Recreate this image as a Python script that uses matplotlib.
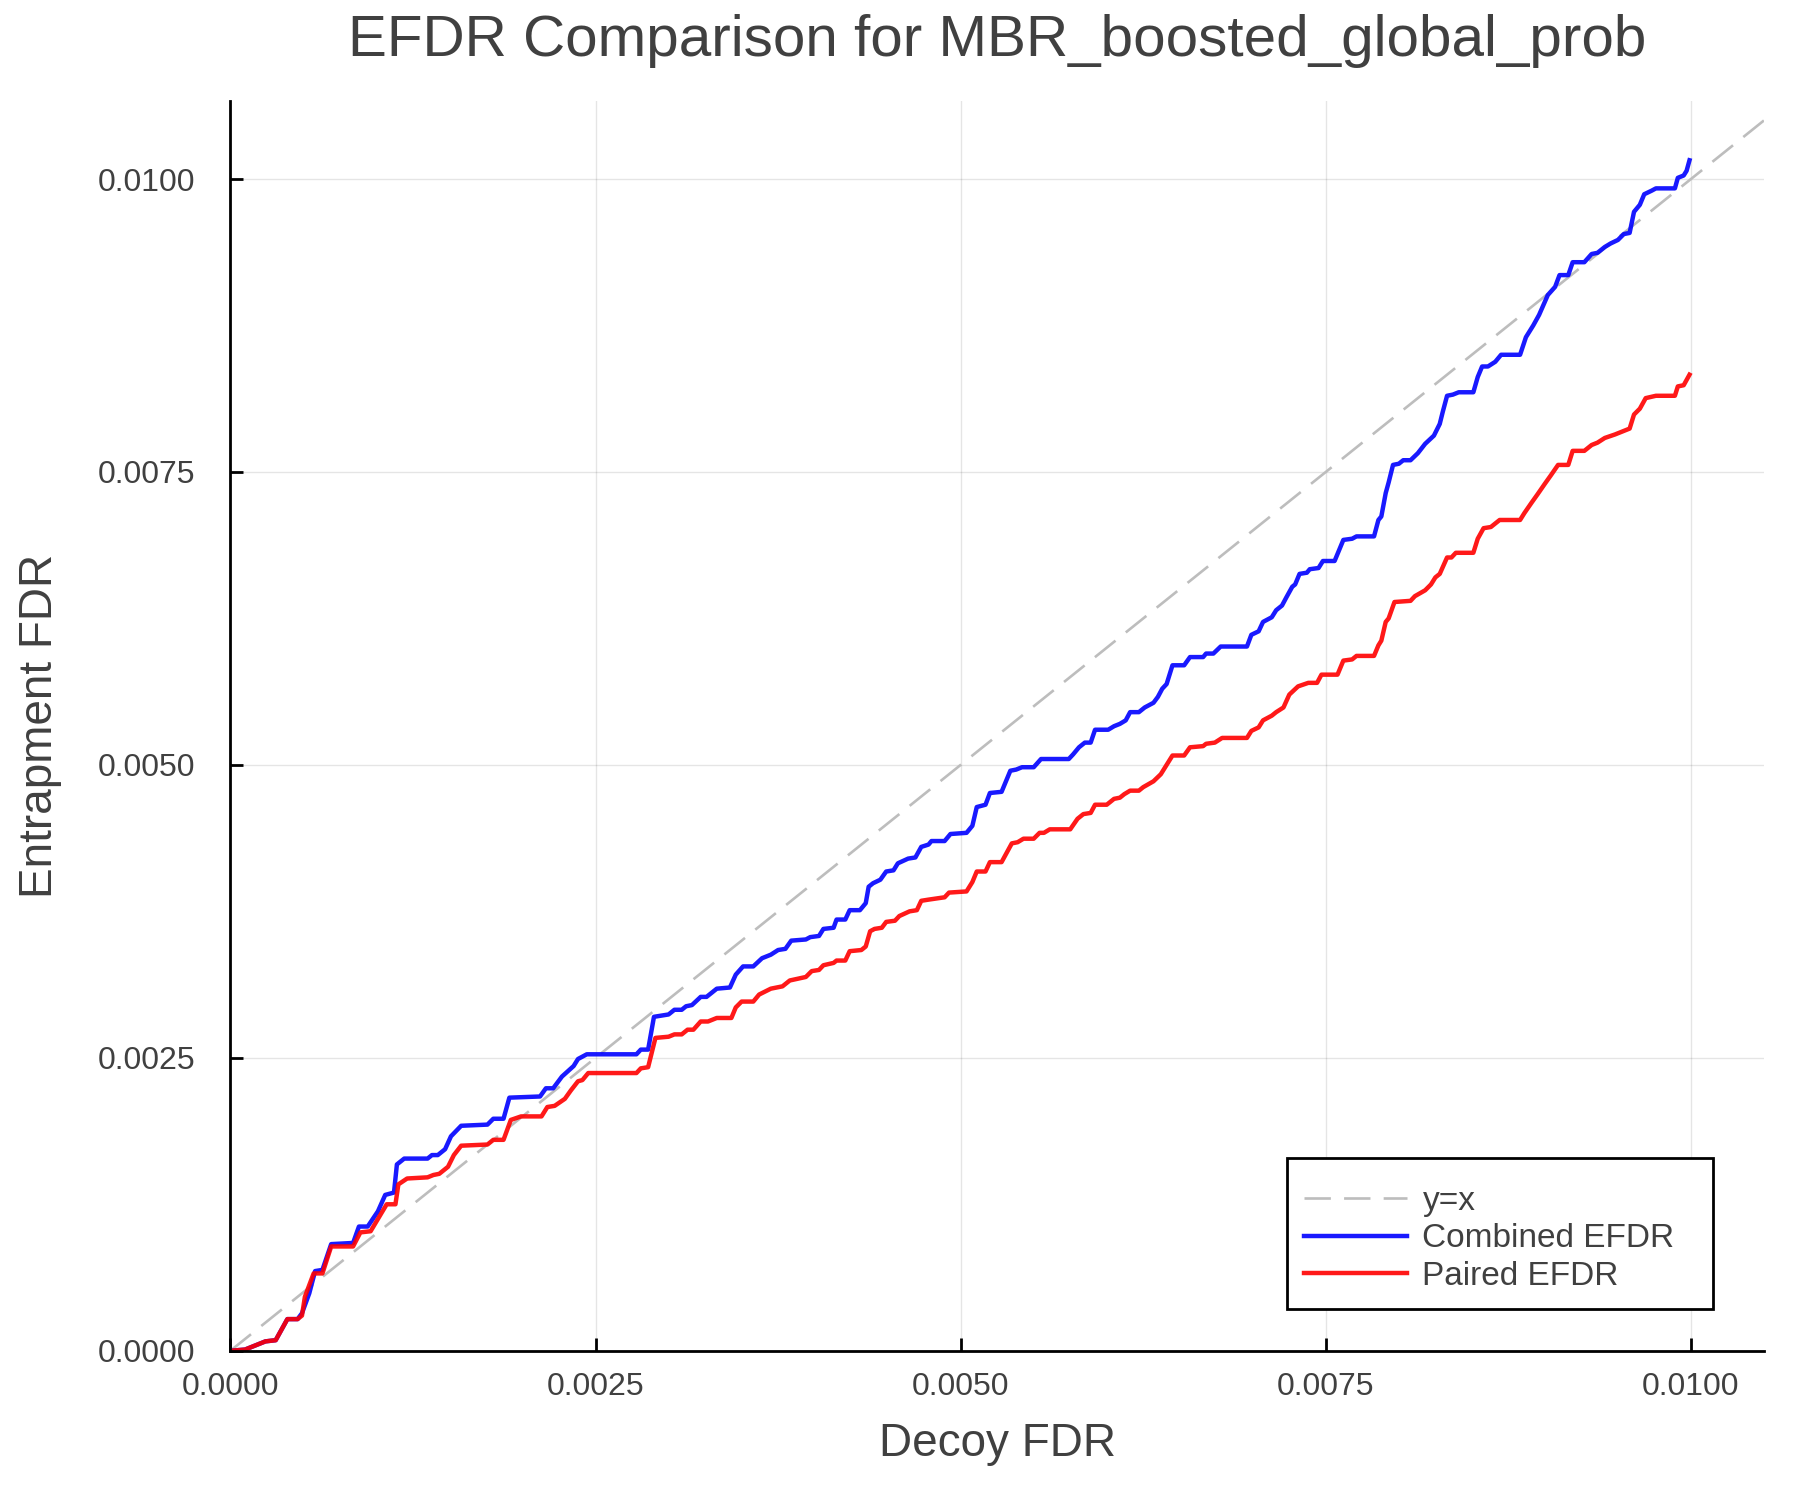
import matplotlib
matplotlib.use("Agg")
import matplotlib.pyplot as plt
from matplotlib.patches import Rectangle
import numpy as np

plt.rcParams['font.family'] = ['Liberation Sans', 'DejaVu Sans']

# decoy FDR (x) vs entrapment FDR (y)
combined_x = [0, 0.0001, 0.00024, 0.00031, 0.00039, 0.00046, 0.00049, 0.00054, 0.00058, 0.00063,
              0.00069, 0.00084, 0.00088, 0.00094, 0.00101, 0.00106, 0.00112, 0.00114, 0.00119, 0.00135,
              0.00138, 0.00142, 0.00147, 0.00151, 0.00158, 0.00176, 0.00180, 0.00187, 0.00191, 0.00212,
              0.00216, 0.00221, 0.00227, 0.00235, 0.00238, 0.00244, 0.00278, 0.00281, 0.00286, 0.00290,
              0.00300, 0.00304, 0.00309, 0.00312, 0.00316, 0.00322, 0.00326, 0.00333, 0.00342, 0.00346,
              0.00351, 0.00358, 0.00364, 0.00370, 0.00375, 0.00380, 0.00384, 0.00394, 0.00397, 0.00403,
              0.00406, 0.00413, 0.00415, 0.00421, 0.00424, 0.00431, 0.00435, 0.00437, 0.00440, 0.00445,
              0.00449, 0.00454, 0.00457, 0.00464, 0.00469, 0.00473, 0.00478, 0.00480, 0.00489, 0.00493,
              0.00504, 0.00508, 0.00511, 0.00517, 0.00520, 0.00528, 0.00534, 0.00538, 0.00542, 0.00550,
              0.00555, 0.00574, 0.00577, 0.00581, 0.00585, 0.00589, 0.00592, 0.00601, 0.00605, 0.00609,
              0.00613, 0.00616, 0.00622, 0.00626, 0.00632, 0.00635, 0.00638, 0.00641, 0.00645, 0.00653,
              0.00657, 0.00666, 0.00668, 0.00673, 0.00678, 0.00696, 0.00699, 0.00704, 0.00707, 0.00713,
              0.00716, 0.00720, 0.00723, 0.00727, 0.00729, 0.00732, 0.00737, 0.00739, 0.00745, 0.00748,
              0.00756, 0.00762, 0.00768, 0.00771, 0.00783, 0.00786, 0.00788, 0.00791, 0.00793, 0.00796,
              0.00800, 0.00803, 0.00808, 0.00813, 0.00818, 0.00824, 0.00828, 0.00830, 0.00833, 0.00837,
              0.00841, 0.00851, 0.00854, 0.00857, 0.00861, 0.00866, 0.00870, 0.00883, 0.00887, 0.00892,
              0.00896, 0.00902, 0.00907, 0.00910, 0.00916, 0.00919, 0.00927, 0.00932, 0.00936, 0.00941,
              0.00945, 0.00950, 0.00954, 0.00958, 0.00961, 0.00965, 0.00968, 0.00973, 0.00976, 0.00989,
              0.00991, 0.00995, 0.00997, 0.00999]
combined_y = [0, 0.00001, 0.00008, 0.00009, 0.00027, 0.00027, 0.00032, 0.00049, 0.00068, 0.00069,
              0.00091, 0.00092, 0.00106, 0.00106, 0.00119, 0.00133, 0.00135, 0.00159, 0.00164, 0.00164,
              0.00167, 0.00167, 0.00172, 0.00183, 0.00192, 0.00193, 0.00198, 0.00198, 0.00216, 0.00217,
              0.00224, 0.00224, 0.00234, 0.00243, 0.00249, 0.00253, 0.00253, 0.00257, 0.00257, 0.00285,
              0.00287, 0.00291, 0.00291, 0.00294, 0.00295, 0.00302, 0.00302, 0.00309, 0.00310, 0.00321,
              0.00328, 0.00328, 0.00335, 0.00338, 0.00342, 0.00343, 0.00350, 0.00351, 0.00353, 0.00354,
              0.00360, 0.00361, 0.00368, 0.00368, 0.00376, 0.00376, 0.00382, 0.00396, 0.00399, 0.00402,
              0.00409, 0.00410, 0.00416, 0.00420, 0.00421, 0.00430, 0.00432, 0.00435, 0.00435, 0.00441,
              0.00442, 0.00448, 0.00464, 0.00466, 0.00476, 0.00477, 0.00495, 0.00496, 0.00498, 0.00498,
              0.00505, 0.00505, 0.00509, 0.00515, 0.00519, 0.00519, 0.00530, 0.00530, 0.00533, 0.00535,
              0.00538, 0.00545, 0.00545, 0.00549, 0.00553, 0.00558, 0.00565, 0.00569, 0.00585, 0.00585,
              0.00592, 0.00592, 0.00595, 0.00595, 0.00601, 0.00601, 0.00611, 0.00614, 0.00622, 0.00626,
              0.00632, 0.00636, 0.00643, 0.00652, 0.00654, 0.00663, 0.00664, 0.00667, 0.00668, 0.00674,
              0.00674, 0.00692, 0.00693, 0.00695, 0.00695, 0.00709, 0.00712, 0.00732, 0.00741, 0.00756,
              0.00757, 0.00760, 0.00760, 0.00766, 0.00774, 0.00781, 0.00791, 0.00801, 0.00815, 0.00816,
              0.00818, 0.00818, 0.00831, 0.00840, 0.00840, 0.00844, 0.00850, 0.00850, 0.00865, 0.00875,
              0.00884, 0.00901, 0.00908, 0.00918, 0.00918, 0.00929, 0.00929, 0.00936, 0.00937, 0.00942,
              0.00945, 0.00948, 0.00953, 0.00954, 0.00972, 0.00978, 0.00987, 0.00990, 0.00992, 0.00992,
              0.01001, 0.01003, 0.01007, 0.01016]

paired_x = [0, 0.0001, 0.00024, 0.00031, 0.00039, 0.00046, 0.00049, 0.00051, 0.00057, 0.00063,
            0.00069, 0.00084, 0.00089, 0.00096, 0.00107, 0.00113, 0.00115, 0.00121, 0.00135, 0.00139,
            0.00143, 0.00149, 0.00153, 0.00158, 0.00176, 0.00180, 0.00187, 0.00192, 0.00199, 0.00213,
            0.00217, 0.00222, 0.00229, 0.00233, 0.00238, 0.00241, 0.00245, 0.00278, 0.00281, 0.00286,
            0.00291, 0.00300, 0.00304, 0.00309, 0.00313, 0.00317, 0.00322, 0.00327, 0.00333, 0.00343,
            0.00346, 0.00350, 0.00358, 0.00362, 0.00370, 0.00378, 0.00383, 0.00394, 0.00398, 0.00403,
            0.00406, 0.00413, 0.00415, 0.00421, 0.00424, 0.00432, 0.00435, 0.00438, 0.00441, 0.00446,
            0.00449, 0.00455, 0.00458, 0.00465, 0.00470, 0.00473, 0.00478, 0.00489, 0.00492, 0.00504,
            0.00508, 0.00511, 0.00517, 0.00520, 0.00528, 0.00535, 0.00539, 0.00543, 0.00550, 0.00554,
            0.00557, 0.00561, 0.00575, 0.00580, 0.00584, 0.00589, 0.00592, 0.00600, 0.00605, 0.00609,
            0.00612, 0.00616, 0.00622, 0.00625, 0.00632, 0.00637, 0.00640, 0.00645, 0.00653, 0.00657,
            0.00666, 0.00668, 0.00674, 0.00679, 0.00696, 0.00699, 0.00704, 0.00707, 0.00713, 0.00716,
            0.00721, 0.00725, 0.00731, 0.00738, 0.00744, 0.00747, 0.00758, 0.00762, 0.00768, 0.00771,
            0.00783, 0.00786, 0.00788, 0.00791, 0.00793, 0.00797, 0.00808, 0.00811, 0.00818, 0.00822,
            0.00825, 0.00828, 0.00833, 0.00836, 0.00839, 0.00851, 0.00854, 0.00858, 0.00863, 0.00869,
            0.00883, 0.00886, 0.00891, 0.00895, 0.00900, 0.00904, 0.00909, 0.00916, 0.00919, 0.00927,
            0.00932, 0.00936, 0.00941, 0.00948, 0.00952, 0.00958, 0.00961, 0.00965, 0.00969, 0.00976,
            0.00989, 0.00991, 0.00995, 0.00999]
paired_y = [0, 0.00001, 0.00008, 0.00009, 0.00027, 0.00027, 0.00030, 0.00046, 0.00066, 0.00066,
            0.00089, 0.00089, 0.00101, 0.00102, 0.00125, 0.00125, 0.00142, 0.00147, 0.00148, 0.00150,
            0.00151, 0.00157, 0.00167, 0.00175, 0.00176, 0.00180, 0.00180, 0.00197, 0.00200, 0.00200,
            0.00208, 0.00209, 0.00215, 0.00222, 0.00230, 0.00231, 0.00237, 0.00237, 0.00241, 0.00242,
            0.00267, 0.00268, 0.00270, 0.00270, 0.00274, 0.00274, 0.00281, 0.00281, 0.00284, 0.00284,
            0.00293, 0.00298, 0.00298, 0.00304, 0.00309, 0.00311, 0.00316, 0.00319, 0.00324, 0.00325,
            0.00329, 0.00331, 0.00333, 0.00333, 0.00341, 0.00342, 0.00345, 0.00358, 0.00360, 0.00361,
            0.00366, 0.00367, 0.00371, 0.00375, 0.00376, 0.00384, 0.00385, 0.00387, 0.00391, 0.00392,
            0.00400, 0.00409, 0.00409, 0.00417, 0.00417, 0.00433, 0.00434, 0.00437, 0.00437, 0.00442,
            0.00442, 0.00445, 0.00445, 0.00454, 0.00458, 0.00459, 0.00466, 0.00466, 0.00471, 0.00472,
            0.00475, 0.00478, 0.00478, 0.00481, 0.00486, 0.00492, 0.00498, 0.00508, 0.00508, 0.00515,
            0.00516, 0.00518, 0.00519, 0.00523, 0.00523, 0.00529, 0.00532, 0.00538, 0.00542, 0.00545,
            0.00549, 0.00560, 0.00567, 0.00570, 0.00570, 0.00577, 0.00577, 0.00589, 0.00590, 0.00593,
            0.00593, 0.00602, 0.00606, 0.00622, 0.00625, 0.00639, 0.00640, 0.00644, 0.00649, 0.00654,
            0.00660, 0.00663, 0.00677, 0.00677, 0.00681, 0.00681, 0.00693, 0.00702, 0.00703, 0.00709,
            0.00709, 0.00715, 0.00724, 0.00731, 0.00740, 0.00747, 0.00756, 0.00756, 0.00768, 0.00768,
            0.00773, 0.00775, 0.00779, 0.00782, 0.00784, 0.00787, 0.00799, 0.00804, 0.00813, 0.00815,
            0.00815, 0.00823, 0.00824, 0.00833]

ticks = [0.0, 0.0025, 0.005, 0.0075, 0.01]
x_max = 0.0105
y_max = 0.01067
text_col = '#404040'

fig = plt.figure(figsize=(18, 15), dpi=100)
ax = fig.add_axes([0.128, 0.0995, 0.852, 0.8335])

diag = np.array([0.0, x_max])
ax.plot(diag, diag, color='#bdbdbd', lw=1.9, dashes=[10, 5], label='y=x')
ax.plot(combined_x, combined_y, color='#0000ff', alpha=0.9, lw=3.2, label='Combined EFDR')
ax.plot(paired_x, paired_y, color='#ff0000', alpha=0.9, lw=3.2, label='Paired EFDR')

ax.set_xlim(0, x_max)
ax.set_ylim(0, y_max)
ax.set_xticks(ticks)
ax.set_yticks(ticks)
ax.set_xticklabels(['%.4f' % t for t in ticks])
ax.set_yticklabels(['%.4f' % t for t in ticks])
ax.grid(True, color='black', alpha=0.1, lw=1.0)

for s in ['top', 'right']:
    ax.spines[s].set_visible(False)
for s in ['left', 'bottom']:
    ax.spines[s].set_linewidth(2.0)
ax.tick_params(direction='in', length=9.5, width=2.0, labelsize=23, labelcolor=text_col)
ax.tick_params(axis='y', pad=25)
ax.tick_params(axis='x', pad=15)

ax.set_title('EFDR Comparison for MBR_boosted_global_prob', fontsize=42, color=text_col, pad=32)
ax.set_xlabel('Decoy FDR', fontsize=33, color=text_col, va='center')
ax.set_ylabel('Entrapment FDR', fontsize=33, color=text_col, va='center')
ax.xaxis.set_label_coords(0.5, -0.0746)
ax.yaxis.set_label_coords(-0.124, 0.5)

# legend box drawn separately so the padding matches the reference
box = Rectangle((0.715, 0.1273), 0.2366, 0.1007, transform=fig.transFigure,
                facecolor='white', edgecolor='black', lw=2.0, zorder=5, clip_on=False)
ax.add_patch(box)
leg = ax.legend(loc='upper left', bbox_to_anchor=(0.7245, 0.2095), bbox_transform=fig.transFigure,
                fontsize=24, frameon=False, handlelength=3.1, handletextpad=0.45,
                labelspacing=0.2, borderpad=0, borderaxespad=0)
leg.set_zorder(6)
for t in leg.get_texts():
    t.set_color(text_col)

fig.savefig('out.png', dpi=100)
